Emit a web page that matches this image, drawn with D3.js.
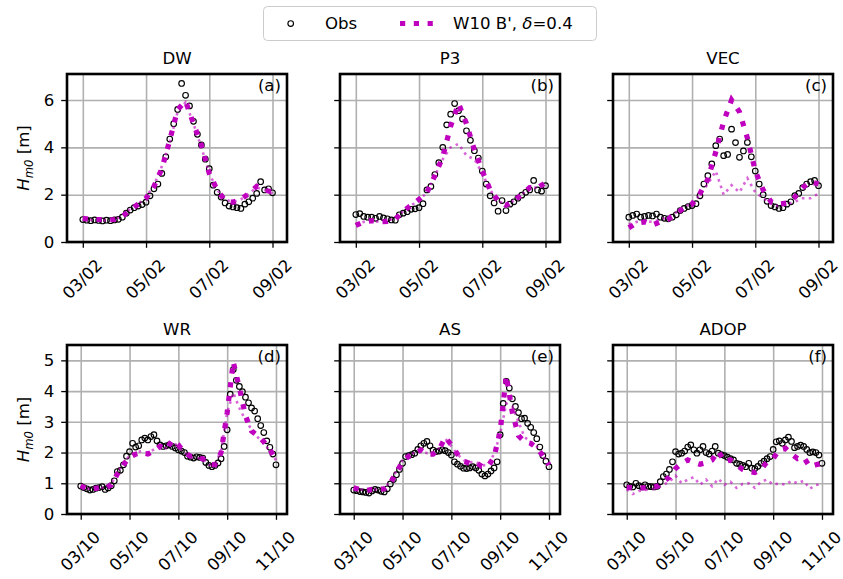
<!DOCTYPE html>
<html>
<head>
<meta charset="utf-8">
<script src="https://cdn.jsdelivr.net/npm/d3@7"></script>
<style>
  body { margin: 0; background: #fff; }
  svg { display: block; }
  text { font-family: "DejaVu Sans", sans-serif; fill: #000; }
</style>
</head>
<body>
<svg id="fig" width="843" height="579"></svg>
<script>
// ---------------- data ----------------
// Observed Hm0 [m], 3-hourly from 00:00 of the first day
const obsDW = [0.95,0.92,0.90,0.93,0.91,0.89,0.92,0.90,
  0.93,0.96,1.05,1.22,1.35,1.45,1.52,1.58,
  1.68,1.95,2.25,2.45,2.90,3.60,4.35,5.00,
  5.60,6.70,6.20,5.75,5.10,4.55,4.10,3.50,
  3.10,2.40,2.10,1.90,1.65,1.52,1.48,1.45,
  1.42,1.60,1.70,1.85,2.05,2.55,2.20,2.25,
  2.08];
const obsP3 = [1.16,1.20,1.08,1.05,1.05,1.00,1.08,1.02,
  0.98,0.93,0.92,1.15,1.22,1.28,1.38,1.40,
  1.45,1.62,2.20,2.35,2.85,3.35,4.00,4.95,
  5.40,5.85,5.55,5.20,4.70,4.30,3.86,3.55,
  3.00,2.45,1.95,1.65,1.30,1.75,1.33,1.60,
  1.70,1.85,1.98,2.10,2.20,2.60,2.20,2.15,
  2.38];
const obsVEC = [1.05,1.12,1.18,1.05,1.08,1.12,1.10,1.18,
  1.05,1.00,0.98,1.05,1.15,1.33,1.42,1.50,
  1.54,1.62,1.95,2.45,2.80,3.30,4.07,4.35,
  3.65,3.70,4.77,4.20,3.58,3.85,4.21,3.60,
  3.00,2.45,2.00,1.72,1.54,1.48,1.42,1.45,
  1.60,1.70,1.96,2.05,2.30,2.45,2.55,2.60,
  2.38];
const obsWR = [0.91,0.86,0.82,0.78,0.80,0.84,0.86,0.89,
  0.80,0.85,0.92,1.08,1.38,1.42,1.60,1.88,
  2.03,2.30,2.18,2.22,2.41,2.47,2.41,2.52,
  2.58,2.38,2.25,2.20,2.22,2.25,2.20,2.15,
  2.09,2.05,2.00,1.88,1.85,1.82,1.86,1.84,
  1.82,1.68,1.58,1.54,1.58,1.66,1.80,2.20,
  2.74,3.90,4.70,4.35,4.15,3.98,3.80,3.62,
  3.45,3.35,3.10,2.88,2.65,2.38,2.17,1.95,
  1.60];
const obsAS = [0.78,0.76,0.73,0.72,0.70,0.68,0.75,0.80,
  0.78,0.74,0.72,0.82,0.98,1.12,1.28,1.45,
  1.65,1.87,1.90,1.93,1.98,2.10,2.22,2.30,
  2.36,2.22,2.08,2.03,2.05,2.09,2.06,2.00,
  1.92,1.70,1.62,1.55,1.49,1.48,1.50,1.54,
  1.50,1.42,1.30,1.24,1.30,1.40,1.50,1.70,
  2.58,3.60,4.32,4.10,3.75,3.50,3.30,3.10,
  3.12,2.95,2.82,2.65,2.45,2.18,1.90,1.72,
  1.54];
const obsADOP = [0.95,0.90,0.88,1.00,0.92,0.88,0.95,0.90,
  0.89,0.88,0.90,1.05,1.22,1.30,1.45,1.70,
  2.03,1.95,1.98,2.05,2.18,2.25,2.09,1.98,
  2.09,2.20,2.00,1.95,2.05,2.20,1.98,1.93,
  1.90,1.85,1.80,1.76,1.65,1.62,1.58,1.54,
  1.65,1.49,1.48,1.55,1.65,1.72,1.80,1.87,
  2.10,2.35,2.38,2.30,2.41,2.50,2.36,2.16,
  2.20,2.24,2.20,2.10,2.00,2.02,2.00,1.92,
  1.65];

// W10 B', delta = 0.4 (6-hourly)
const w10DW = [1.00,0.95,0.95,0.93,0.95,1.08,1.35,1.60,1.85,2.35,3.10,4.30,5.60,5.95,5.00,4.10,2.90,2.20,1.75,1.68,1.80,2.05,2.35,2.20,2.10];
const w10P3 = [0.70,0.85,0.90,0.85,0.87,0.97,1.30,1.55,1.80,2.10,2.80,3.60,4.90,5.85,5.00,3.90,3.00,2.20,1.75,1.55,1.75,2.00,2.30,2.30,2.50];
const w10VEC = [0.60,0.80,0.85,0.72,0.85,0.97,1.20,1.45,1.60,2.05,2.65,3.80,5.10,6.00,5.50,4.40,3.00,2.20,1.70,1.60,1.65,1.90,2.30,2.55,2.45];
const w10WR = [0.92,0.82,0.82,0.85,0.83,0.95,1.30,1.60,1.85,1.95,2.00,1.95,2.05,2.20,2.10,2.40,2.25,2.00,1.88,1.82,1.80,1.62,1.60,2.00,3.30,4.95,4.10,3.20,2.70,2.55,2.35,2.10,1.75];
const w10AS = [0.85,0.80,0.76,0.80,0.80,0.82,1.00,1.35,1.70,1.88,1.98,2.08,1.95,1.95,2.10,2.50,2.25,1.95,1.72,1.65,1.68,1.55,1.55,1.85,2.70,4.50,3.30,2.55,2.35,2.30,2.15,1.90,1.60];
const w10ADOP = [0.87,0.85,0.85,0.85,0.85,0.90,1.05,1.20,1.48,1.65,1.76,1.68,1.62,1.67,1.76,2.05,1.70,1.76,1.60,1.45,1.38,1.35,1.45,1.70,1.80,2.09,2.14,1.95,1.80,1.85,1.54,1.60,1.65];

// Reference run without the B' term (6-hourly)
const refDW = [0.98,0.93,0.95,0.90,0.95,1.10,1.40,1.60,1.90,2.40,3.20,4.20,5.50,5.90,5.00,4.00,2.90,2.20,1.80,1.70,1.80,2.05,2.30,2.20,2.05];
const refP3 = [0.75,0.85,0.90,0.85,0.90,1.00,1.30,1.55,1.75,2.10,2.80,3.50,4.00,4.15,3.65,3.50,2.90,2.20,1.75,1.55,1.75,2.00,2.30,2.30,2.45];
const refVEC = [0.75,0.85,0.88,0.85,0.95,1.05,1.25,1.50,1.60,2.00,2.45,3.00,2.00,2.40,2.10,2.70,2.10,1.85,1.60,1.50,1.60,1.70,1.85,1.85,2.05];
const refWR = [0.90,0.82,0.83,0.85,0.85,0.98,1.35,1.65,1.90,2.00,2.05,2.00,2.10,2.20,2.15,2.35,2.20,2.00,1.85,1.82,1.80,1.60,1.62,2.05,3.30,3.95,3.45,3.05,2.75,2.50,2.30,2.05,1.75];
const refAS = [0.85,0.80,0.78,0.80,0.80,0.85,1.05,1.40,1.75,1.90,2.00,2.05,1.98,1.98,2.15,2.45,2.20,1.95,1.75,1.68,1.70,1.58,1.60,1.95,2.60,3.60,3.50,3.00,2.50,2.35,2.20,1.90,1.60];
const refADOP = [0.80,0.65,0.75,0.78,0.80,0.85,0.95,1.05,1.25,1.00,1.12,1.20,0.95,1.12,0.90,1.15,0.95,1.05,0.85,0.98,1.00,0.85,1.05,1.12,0.95,1.00,0.95,1.08,1.00,1.08,0.82,0.95,0.95];

const stations = ["DW", "P3", "VEC", "WR", "AS", "ADOP"];
const panelTags = ["(a)", "(b)", "(c)", "(d)", "(e)", "(f)"];
const febTickLabels = ["03/02", "05/02", "07/02", "09/02"];
const octTickLabels = ["03/10", "05/10", "07/10", "09/10", "11/10"];
const febYTicks = [0, 2, 4, 6];
const octYTicks = [0, 1, 2, 3, 4, 5];
const legendLabels = ["Obs", "W10 B', "];

// ---------------- layout ----------------
const svg = d3.select("#fig");
const FS = 16.6;
const MAG = "#bf00bf";
const colLeft = [67, 340, 613];
const axW = 220;
const rowTop = [74, 345];
const rowH = [168, 169];
const TICK = 5.8, PAD = 5.8;

const hour = 3600 * 1000;
const feb0 = Date.UTC(2021, 1, 3);
const oct0 = Date.UTC(2021, 9, 3);
const rows = [
  { t0: feb0, domain: [Date.UTC(2021, 1, 2, 12), Date.UTC(2021, 1, 9, 11)],
    yMax: 7.1, yTicks: febYTicks, labels: febTickLabels,
    xTicks: febTickLabels.map(s => new Date(Date.UTC(2021, 1, +s.slice(0, 2)))) },
  { t0: oct0, domain: [Date.UTC(2021, 9, 2, 10, 30), Date.UTC(2021, 9, 11, 10, 50)],
    yMax: 5.5, yTicks: octYTicks, labels: octTickLabels,
    xTicks: octTickLabels.map(s => new Date(Date.UTC(2021, 9, +s.slice(0, 2)))) }
];

const panels = [
  { obs: obsDW, w10: w10DW, ref: refDW },
  { obs: obsP3, w10: w10P3, ref: refP3 },
  { obs: obsVEC, w10: w10VEC, ref: refVEC },
  { obs: obsWR, w10: w10WR, ref: refWR },
  { obs: obsAS, w10: w10AS, ref: refAS },
  { obs: obsADOP, w10: w10ADOP, ref: refADOP }
].map((p, i) => Object.assign(p, { name: stations[i], tag: panelTags[i], row: Math.floor(i / 3), col: i % 3 }));

const defs = svg.append("defs");

panels.forEach((p, i) => {
  const r = rows[p.row];
  const x0 = colLeft[p.col], y0 = rowTop[p.row], h = rowH[p.row];
  const x = d3.scaleUtc().domain(r.domain).range([x0, x0 + axW]);
  const y = d3.scaleLinear().domain([0, r.yMax]).range([y0 + h, y0]);
  const g = svg.append("g");

  defs.append("clipPath").attr("id", "clip" + i)
    .append("rect").attr("x", x0).attr("y", y0).attr("width", axW).attr("height", h);

  // grid
  g.append("g").attr("transform", `translate(0,${y0 + h})`)
    .call(d3.axisBottom(x).tickValues(r.xTicks).tickSize(-h).tickFormat(""))
    .call(a => a.select(".domain").remove())
    .call(a => a.selectAll("line").attr("stroke", "#b0b0b0").attr("stroke-width", 1.6));
  g.append("g").attr("transform", `translate(${x0},0)`)
    .call(d3.axisLeft(y).tickValues(r.yTicks).tickSize(-axW).tickFormat(""))
    .call(a => a.select(".domain").remove())
    .call(a => a.selectAll("line").attr("stroke", "#b0b0b0").attr("stroke-width", 1.6));

  // series
  const data = g.append("g").attr("clip-path", `url(#clip${i})`);
  const obsPts = p.obs.map((v, k) => ({ t: new Date(r.t0 + k * 3 * hour), v }));
  const line = d3.line().x(d => x(d.t)).y(d => y(d.v));
  const modPts = arr => arr.map((v, k) => ({ t: new Date(r.t0 + k * 6 * hour), v }));

  data.selectAll("circle").data(obsPts).join("circle")
    .attr("cx", d => x(d.t)).attr("cy", d => y(d.v)).attr("r", 2.8)
    .attr("fill", "none").attr("stroke", "#000").attr("stroke-width", 1.15);

  data.append("path").datum(modPts(p.ref)).attr("d", line)
    .attr("fill", "none").attr("stroke", MAG).attr("stroke-opacity", 0.6)
    .attr("stroke-width", 2.6).attr("stroke-dasharray", "2.6,4.3");

  data.append("path").datum(modPts(p.w10)).attr("d", line)
    .attr("fill", "none").attr("stroke", MAG)
    .attr("stroke-width", 5.2).attr("stroke-dasharray", "5.2,8.6");

  // axes
  const xa = g.append("g").attr("transform", `translate(0,${y0 + h})`)
    .call(d3.axisBottom(x).tickValues(r.xTicks).tickSize(TICK).tickPadding(PAD)
      .tickFormat((d, k) => r.labels[k]));
  xa.select(".domain").remove();
  xa.selectAll("line").attr("stroke", "#000").attr("stroke-width", 1.3);
  xa.selectAll("text").attr("font-size", FS).attr("fill", "#000")
    .attr("font-family", "DejaVu Sans")
    .each(function () {
      const t = d3.select(this);
      const L = this.getComputedTextLength();
      const half = (L + FS * 0.95) * Math.SQRT1_2 / 2;
      t.attr("y", 0).attr("dy", "0.35em").attr("text-anchor", "middle")
        .attr("transform", `translate(-1,${TICK + PAD + 3 + half}) rotate(-45)`);
    });

  const ya = g.append("g").attr("transform", `translate(${x0},0)`)
    .call(d3.axisLeft(y).tickValues(r.yTicks).tickSize(TICK).tickPadding(PAD + 1)
      .tickFormat(p.col === 0 ? d3.format("d") : () => ""));
  ya.select(".domain").remove();
  ya.selectAll("line").attr("stroke", "#000").attr("stroke-width", 1.3);
  ya.selectAll("text").attr("font-size", FS).attr("fill", "#000").attr("font-family", "DejaVu Sans");

  // frame
  g.append("rect").attr("x", x0).attr("y", y0).attr("width", axW).attr("height", h)
    .attr("fill", "none").attr("stroke", "#000").attr("stroke-width", 2.6);

  // title and tag
  g.append("text").attr("x", x0 + axW / 2).attr("y", y0 - 10)
    .attr("text-anchor", "middle").attr("font-size", FS).text(p.name);
  g.append("text").attr("x", x0 + axW - 6).attr("y", y0 + 17)
    .attr("text-anchor", "end").attr("font-size", FS).text(p.tag);

  // y label
  if (p.col === 0) {
    const yl = g.append("text")
      .attr("transform", `translate(29,${y0 + h / 2}) rotate(-90)`)
      .attr("text-anchor", "middle").attr("font-size", FS);
    yl.append("tspan").attr("font-style", "italic").text("H");
    yl.append("tspan").attr("font-style", "italic").attr("font-size", FS * 0.7)
      .attr("dy", 3.5).text("m0");
    yl.append("tspan").attr("dy", -3.5).text("\u00a0[m]");
  }
});

// ---------------- legend ----------------
const lg = svg.append("g");
lg.append("rect").attr("x", 263.5).attr("y", 6.5).attr("width", 333).attr("height", 34)
  .attr("rx", 4).attr("fill", "#fff").attr("fill-opacity", 0.8)
  .attr("stroke", "#cccccc").attr("stroke-width", 1);
lg.append("circle").attr("cx", 290.7).attr("cy", 23.5).attr("r", 2.8)
  .attr("fill", "none").attr("stroke", "#000").attr("stroke-width", 1.15);
lg.append("text").attr("x", 325).attr("y", 29.3).attr("font-size", FS).text(legendLabels[0]);
lg.append("line").attr("x1", 400).attr("x2", 434).attr("y1", 23.5).attr("y2", 23.5)
  .attr("stroke", MAG).attr("stroke-width", 5.2).attr("stroke-dasharray", "5.2,8.6");
const lt = lg.append("text").attr("x", 453).attr("y", 29.3).attr("font-size", FS);
lt.append("tspan").text(legendLabels[1]);
lt.append("tspan").attr("font-style", "italic").text("\u03b4");
lt.append("tspan").text("=0.4");
</script>
</body>
</html>
